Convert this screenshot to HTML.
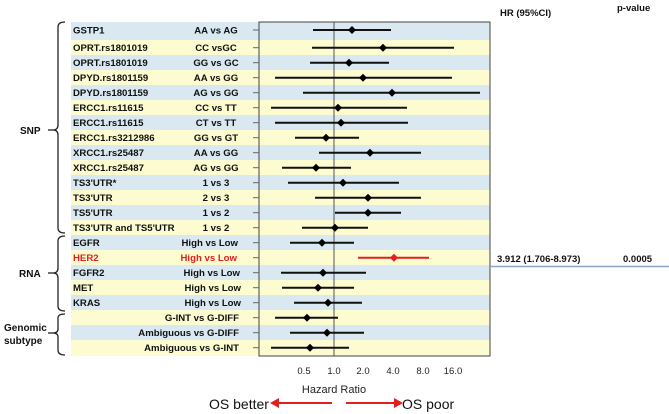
<!DOCTYPE html>
<html><head><meta charset="utf-8"><style>
html,body{margin:0;padding:0;background:#fff;}
svg{display:block;font-family:"Liberation Sans",Arial,sans-serif;}
.l{font-size:9.6px;font-weight:bold;fill:#111;}
</style></head><body>
<svg width="669" height="414" viewBox="0 0 669 414" xmlns="http://www.w3.org/2000/svg">
<g>
<rect x="71" y="22" width="419" height="18" fill="#d9e8f1"/>
<rect x="71" y="40" width="419" height="15" fill="#fdfbd0"/>
<rect x="71" y="55" width="419" height="15" fill="#d9e8f1"/>
<rect x="71" y="70" width="419" height="15" fill="#fdfbd0"/>
<rect x="71" y="85" width="419" height="15" fill="#d9e8f1"/>
<rect x="71" y="100" width="419" height="15" fill="#fdfbd0"/>
<rect x="71" y="115" width="419" height="15" fill="#d9e8f1"/>
<rect x="71" y="130" width="419" height="15" fill="#fdfbd0"/>
<rect x="71" y="145" width="419" height="15" fill="#d9e8f1"/>
<rect x="71" y="160" width="419" height="15" fill="#fdfbd0"/>
<rect x="71" y="175" width="419" height="15" fill="#d9e8f1"/>
<rect x="71" y="190" width="419" height="15" fill="#fdfbd0"/>
<rect x="71" y="205" width="419" height="15" fill="#d9e8f1"/>
<rect x="71" y="220" width="419" height="15" fill="#fdfbd0"/>
<rect x="71" y="235" width="419" height="15" fill="#d9e8f1"/>
<rect x="71" y="250" width="419" height="15" fill="#fdfbd0"/>
<rect x="71" y="265" width="419" height="15" fill="#d9e8f1"/>
<rect x="71" y="280" width="419" height="15" fill="#fdfbd0"/>
<rect x="71" y="295" width="419" height="15" fill="#d9e8f1"/>
<rect x="71" y="310" width="419" height="15" fill="#fdfbd0"/>
<rect x="71" y="325" width="419" height="15" fill="#d9e8f1"/>
<rect x="71" y="340" width="419" height="16" fill="#fdfbd0"/>
</g>
<rect x="259" y="22" width="231" height="334" fill="none" stroke="#444" stroke-width="1"/>
<line x1="334" y1="22" x2="334" y2="356" stroke="#555" stroke-width="1"/>
<g stroke="#666" stroke-width="1">
<line x1="253" x2="259" y1="30" y2="30"/><line x1="253" x2="259" y1="47.7" y2="47.7"/><line x1="253" x2="259" y1="62.7" y2="62.7"/><line x1="253" x2="259" y1="77.7" y2="77.7"/><line x1="253" x2="259" y1="92.7" y2="92.7"/><line x1="253" x2="259" y1="107.7" y2="107.7"/><line x1="253" x2="259" y1="122.7" y2="122.7"/><line x1="253" x2="259" y1="137.7" y2="137.7"/><line x1="253" x2="259" y1="152.7" y2="152.7"/><line x1="253" x2="259" y1="167.7" y2="167.7"/><line x1="253" x2="259" y1="182.7" y2="182.7"/><line x1="253" x2="259" y1="197.7" y2="197.7"/><line x1="253" x2="259" y1="212.7" y2="212.7"/><line x1="253" x2="259" y1="227.7" y2="227.7"/><line x1="253" x2="259" y1="242.7" y2="242.7"/><line x1="253" x2="259" y1="257.7" y2="257.7"/><line x1="253" x2="259" y1="272.7" y2="272.7"/><line x1="253" x2="259" y1="287.7" y2="287.7"/><line x1="253" x2="259" y1="302.7" y2="302.7"/><line x1="253" x2="259" y1="317.7" y2="317.7"/><line x1="253" x2="259" y1="332.7" y2="332.7"/><line x1="253" x2="259" y1="347.7" y2="347.7"/>
</g>
<g stroke="#111" stroke-width="2">
<line x1="313" x2="391" y1="30" y2="30"/>
<line x1="312" x2="454" y1="47.7" y2="47.7"/>
<line x1="310" x2="389" y1="62.7" y2="62.7"/>
<line x1="275" x2="452" y1="77.7" y2="77.7"/>
<line x1="303" x2="480" y1="92.7" y2="92.7"/>
<line x1="271" x2="407" y1="107.7" y2="107.7"/>
<line x1="275" x2="408" y1="122.7" y2="122.7"/>
<line x1="295" x2="359" y1="137.7" y2="137.7"/>
<line x1="319" x2="421" y1="152.7" y2="152.7"/>
<line x1="282" x2="351" y1="167.7" y2="167.7"/>
<line x1="288" x2="399" y1="182.7" y2="182.7"/>
<line x1="315" x2="421" y1="197.7" y2="197.7"/>
<line x1="335" x2="401" y1="212.7" y2="212.7"/>
<line x1="302" x2="368" y1="227.7" y2="227.7"/>
<line x1="290" x2="354" y1="242.7" y2="242.7"/>
<line x1="358" x2="429" y1="257.7" y2="257.7" stroke="#e0201c"/>
<line x1="281" x2="366" y1="272.7" y2="272.7"/>
<line x1="282" x2="354" y1="287.7" y2="287.7"/>
<line x1="294" x2="362" y1="302.7" y2="302.7"/>
<line x1="275" x2="338" y1="317.7" y2="317.7"/>
<line x1="290" x2="364" y1="332.7" y2="332.7"/>
<line x1="271" x2="349" y1="347.7" y2="347.7"/>
</g>
<g fill="#000">
<path d="M352 26l4 4-4 4-4-4z"/><path d="M383 43.7l4 4-4 4-4-4z"/><path d="M349 58.7l4 4-4 4-4-4z"/><path d="M363 73.7l4 4-4 4-4-4z"/><path d="M392 88.7l4 4-4 4-4-4z"/><path d="M338 103.7l4 4-4 4-4-4z"/><path d="M341 118.7l4 4-4 4-4-4z"/><path d="M326 133.7l4 4-4 4-4-4z"/><path d="M370 148.7l4 4-4 4-4-4z"/><path d="M316 163.7l4 4-4 4-4-4z"/><path d="M343 178.7l4 4-4 4-4-4z"/><path d="M368 193.7l4 4-4 4-4-4z"/><path d="M368 208.7l4 4-4 4-4-4z"/><path d="M335 223.7l4 4-4 4-4-4z"/><path d="M322 238.7l4 4-4 4-4-4z"/><path d="M394 253.7l4 4-4 4-4-4z" fill="#e0201c"/><path d="M323 268.7l4 4-4 4-4-4z"/><path d="M318 283.7l4 4-4 4-4-4z"/><path d="M328 298.7l4 4-4 4-4-4z"/><path d="M307 313.7l4 4-4 4-4-4z"/><path d="M327 328.7l4 4-4 4-4-4z"/><path d="M310 343.7l4 4-4 4-4-4z"/>
</g>
<g class="l">
<text x="73" y="33.5">GSTP1</text>
<text x="73" y="51.2">OPRT.rs1801019</text>
<text x="73" y="66.2">OPRT.rs1801019</text>
<text x="73" y="81.2">DPYD.rs1801159</text>
<text x="73" y="96.2">DPYD.rs1801159</text>
<text x="73" y="111.2">ERCC1.rs11615</text>
<text x="73" y="126.2">ERCC1.rs11615</text>
<text x="73" y="141.2">ERCC1.rs3212986</text>
<text x="73" y="156.2">XRCC1.rs25487</text>
<text x="73" y="171.2">XRCC1.rs25487</text>
<text x="73" y="186.2">TS3'UTR*</text>
<text x="73" y="201.2">TS3'UTR</text>
<text x="73" y="216.2">TS5'UTR</text>
<text x="73" y="231.2">TS3'UTR and TS5'UTR</text>
<text x="73" y="246.2">EGFR</text>
<text x="73" y="261.2" fill="#e0201c">HER2</text>
<text x="73" y="276.2">FGFR2</text>
<text x="73" y="291.2">MET</text>
<text x="73" y="306.2">KRAS</text>
</g>
<g class="l" text-anchor="middle">
<text x="216" y="33.5">AA vs AG</text>
<text x="216" y="51.2">CC vsGC</text>
<text x="216" y="66.2">GG vs GC</text>
<text x="216" y="81.2">AA vs GG</text>
<text x="216" y="96.2">AG vs GG</text>
<text x="216" y="111.2">CC vs TT</text>
<text x="216" y="126.2">CT vs TT</text>
<text x="216" y="141.2">GG vs GT</text>
<text x="216" y="156.2">AA vs GG</text>
<text x="216" y="171.2">AG vs GG</text>
<text x="216" y="186.2">1 vs 3</text>
<text x="216" y="201.2">2 vs 3</text>
<text x="216" y="216.2">1 vs 2</text>
<text x="216" y="231.2">1 vs 2</text>
</g>
<g class="l" text-anchor="end">
<text x="238" y="246.2">High vs Low</text>
<text x="237" y="261.2" fill="#e0201c">High vs Low</text>
<text x="240" y="276.2">High vs Low</text>
<text x="241" y="291.2">High vs Low</text>
<text x="241" y="306.2">High vs Low</text>
<text x="239" y="321.2">G-INT vs G-DIFF</text>
<text x="239" y="336.2">Ambiguous vs G-DIFF</text>
<text x="239" y="351.2">Ambiguous vs G-INT</text>
</g>
<g fill="none" stroke="#222" stroke-width="1.3">
<path d="M65 22 Q58 22 58 27 L58 125 Q58 130 53 130 Q58 130 58 135 L58 228 Q58 233 65 233"/>
<path d="M48 130 L53 130"/>
<path d="M65 236 Q58 236 58 241 L58 268 Q58 273 53 273 Q58 273 58 278 L58 306 Q58 311 65 311"/>
<path d="M48 273 L53 273"/>
<path d="M65 314 Q58 314 58 318 L58 329 Q58 333 53 333 Q58 333 58 337 L58 350 Q58 355 65 355"/>
<path d="M48 333 L53 333"/>
</g>
<g font-size="10" font-weight="bold" fill="#111">
<text x="20" y="134">SNP</text>
<text x="19" y="277">RNA</text>
<text x="4" y="331">Genomic</text>
<text x="4" y="344">subtype</text>
</g>
<g font-size="9.5" fill="#222" text-anchor="middle">
<text x="304" y="374">0.5</text><text x="334" y="374">1.0</text><text x="363" y="374">2.0</text><text x="393" y="374">4.0</text><text x="423" y="374">8.0</text><text x="453" y="374">16.0</text>
<text x="334" y="393" font-size="11">Hazard Ratio</text>
</g>
<g font-size="14" fill="#111">
<text x="209" y="409">OS better</text>
<text x="402" y="409">OS poor</text>
</g>
<g stroke="#e0201c" stroke-width="2" fill="#e0201c">
<line x1="332" y1="403" x2="276" y2="403"/><path d="M270 403l9-5v10z" stroke="none"/>
<line x1="346" y1="403" x2="396" y2="403"/><path d="M403 403l-9-5v10z" stroke="none"/>
</g>
<g font-size="9.5" font-weight="bold" fill="#111">
<text x="500" y="16">HR (95%CI)</text>
<text x="617" y="11">p-value</text>
<text x="497" y="262">3.912 (1.706-8.973)</text>
<text x="623" y="262">0.0005</text>
</g>
<line x1="491" y1="266.5" x2="669" y2="266.5" stroke="#8aa6c0" stroke-width="1.5"/>
</svg>
</body></html>
